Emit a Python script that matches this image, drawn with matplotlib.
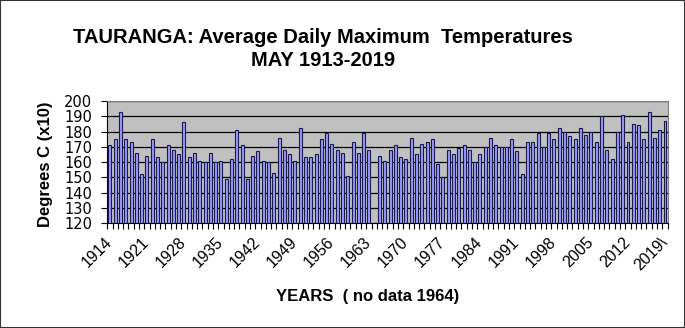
import numpy as np
import matplotlib
matplotlib.use('Agg')
import matplotlib.pyplot as plt
from matplotlib.patches import Rectangle

plt.rcParams['font.family'] = ['Liberation Sans', 'DejaVu Sans']

# May mean daily max temperature, degrees C x10 (1964 missing)
years = list(range(1914, 2020))
temps = [171, 175, 193, 175, 173, 166, 152, 164, 175, 163,
         160, 171, 168, 165, 186, 163, 166, 161, 160, 166,
         160, 161, 149, 162, 181, 171, 149, 164, 167, 161,
         160, 153, 176, 168, 165, 161, 182, 163, 163, 165,
         175, 179, 172, 168, 166, 151, 173, 166, 179, 168,
         np.nan, 164, 161, 168, 171, 163, 162, 176, 165, 172,
         173, 175, 159, 150, 168, 165, 169, 171, 168, 160,
         165, 170, 176, 171, 170, 170, 175, 167, 152, 173,
         173, 179, 170, 179, 175, 182, 180, 177, 175, 182,
         178, 180, 173, 190, 168, 162, 180, 191, 173, 185,
         184, 175, 193, 176, 181, 187]
tick_labels = ['1914', '1921', '1928', '1935', '1942', '1949', '1956', '1963',
               '1970', '1977', '1984', '1991', '1998', '2005', '2012', '2019\\']

fig = plt.figure(figsize=(6.85, 3.28), dpi=100)
ax = fig.add_axes([0.1566, 0.320, 0.818, 0.372])

x = np.arange(len(years))
ax.bar(x, temps, width=0.55, color='#9999FF', edgecolor='#1a1a4d', linewidth=0.8, zorder=3)

ax.set_facecolor('#C0C0C0')
ax.set_ylim(120, 200)
ax.set_xlim(-0.5, len(years) - 0.5)
ax.set_yticks(range(120, 201, 10))
ax.yaxis.grid(True, color='black', linewidth=0.9, zorder=1)
ax.set_axisbelow(True)

ax.set_xticks(x[::7])
ax.set_xticklabels(tick_labels, rotation=45, ha='right', va='center', rotation_mode='anchor')
ax.set_xticks(np.arange(len(years) + 1) - 0.5, minor=True)
ax.tick_params(axis='x', which='major', length=0, pad=12, labelsize=11.5)
ax.tick_params(axis='x', which='minor', length=4, width=0.8)
ax.tick_params(axis='y', length=4, width=0.8, labelsize=10.5, pad=7)
for lab in ax.get_yticklabels():
    lab.set_family('DejaVu Sans')

for s in ['top', 'right']:
    ax.spines[s].set_color('#808080')
for s in ['left', 'bottom']:
    ax.spines[s].set_color('black')

fig.text(0.472, 0.887, 'TAURANGA: Average Daily Maximum  Temperatures',
         ha='center', va='center', fontsize=14.5, fontweight='bold')
fig.text(0.472, 0.815, 'MAY 1913-2019', ha='center', va='center',
         fontsize=14.5, fontweight='bold')
fig.text(0.537, 0.095, 'YEARS  ( no data 1964)', ha='center', va='center',
         fontsize=12, fontweight='bold')
fig.text(0.066, 0.50, 'Degrees C (x10)', ha='center', va='center',
         rotation=90, fontsize=12, fontweight='bold')

fig.patches.append(Rectangle((0, 0), 1, 1, transform=fig.transFigure, fill=False,
                             edgecolor='#333333', linewidth=1.5))

fig.savefig('out.png', dpi=100)
